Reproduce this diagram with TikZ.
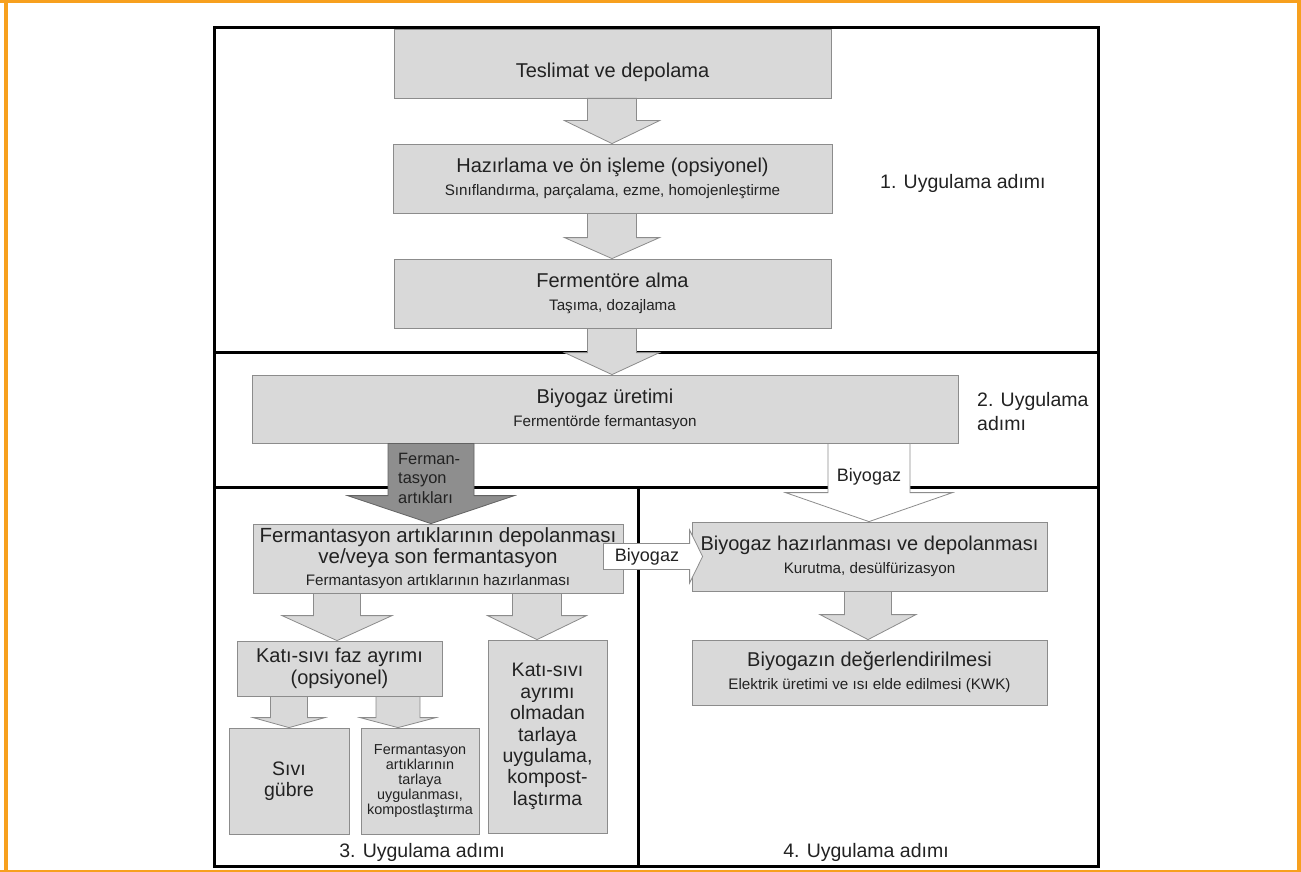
\documentclass[tikz,border=0pt]{standalone}
\usepackage{fontspec}
\setmainfont{Liberation Sans}
\usetikzlibrary{calc}
\definecolor{boxfill}{RGB}{217,217,217}
\definecolor{boxline}{RGB}{140,140,140}
\definecolor{darkfill}{RGB}{142,142,142}
\definecolor{frameorange}{RGB}{247,160,30}
\definecolor{txt}{RGB}{34,34,34}
\newcommand\fsMain{\fontsize{20}{23}\selectfont}
\newcommand\fsSub{\fontsize{15.2}{17}\selectfont}
\newcommand\fsLbl{\fontsize{19.5}{24}\selectfont}
% #1 style, #2 from node, #3 to node, #4 x-coordinate, #5 shaft half width, #6 head half width, #7 head length
\newcommand\blockdown[7]{%
  \draw[#1] ($(#4 |- #2.south)+(-#5,0)$) -- ($(#4 |- #3.north)+(-#5,-#7)$)
    -- ($(#4 |- #3.north)+(-#6,-#7)$) -- (#4 |- #3.north)
    -- ($(#4 |- #3.north)+(#6,-#7)$) -- ($(#4 |- #3.north)+(#5,-#7)$)
    -- ($(#4 |- #2.south)+(#5,0)$) -- cycle;}
\begin{document}
\begin{tikzpicture}[x=1pt,y=-1pt,
  box/.style={draw=boxline, fill=boxfill, line width=0.8pt, inner sep=0pt, align=center, text=txt, font=\fsMain},
  blk/.style={draw=boxline, fill=boxfill, line width=0.8pt, line join=miter},
  gasarrow/.style={draw=boxline, fill=white, line width=0.8pt},
  darkarrow/.style={draw=boxline!70!black, fill=darkfill, line width=0.8pt},
  frameline/.style={line width=3pt, black},
  lbl/.style={inner sep=0pt, text=txt, font=\fsLbl}]
\useasboundingbox (0,0) rectangle (1301,872);
\fill[white] (0,0) rectangle (1301,872);
% orange page frame
\fill[frameorange] (0,0) rectangle (1301,3.5);
\fill[frameorange] (4,0) rectangle (7.5,872);
\fill[frameorange] (1297,0) rectangle (1300.5,872);
\fill[frameorange] (0,869.5) rectangle (1301,872);
% black section frames
\draw[frameline] (214.5,27.5) rectangle (1098,866);
\draw[frameline] (214.5,352) -- (1098,352);
\draw[frameline] (214.5,487) -- (1098,487);
\draw[frameline] (638,487) -- (638,866);
% boxes
\node[box, minimum width=437pt, minimum height=69pt] (tes) at (612.5,63.5) {\rule{0pt}{32pt}Teslimat ve depolama};
\node[box, minimum width=439pt, minimum height=69pt] (haz) at (612.5,178.5) {Hazırlama ve ön işleme (opsiyonel)\\{\fsSub Sınıflandırma, parçalama, ezme, homojenleştirme}};
\node[box, minimum width=437pt, minimum height=69pt] (fer) at (612.5,293.5) {Fermentöre alma\\{\fsSub Taşıma, dozajlama}};
\node[box, minimum width=706pt, minimum height=68pt] (bio) at (605,409) {Biyogaz üretimi\\{\fsSub Fermentörde fermantasyon}};
\node[box, minimum width=370pt, minimum height=69pt, font=\fontsize{20.5}{20.5}\selectfont] (dep) at (438,558.5) {Fermantasyon artıklarının depolanması\\ve/veya son fermantasyon\\[2pt]{\fsSub Fermantasyon artıklarının hazırlanması}};
\node[box, minimum width=205pt, minimum height=55pt, font=\fontsize{20}{22}\selectfont] (kati) at (339.5,668.5) {Katı-sıvı faz ayrımı\\(opsiyonel)};
\node[box, minimum width=119pt, minimum height=193pt, font=\fontsize{19.5}{21.4}\selectfont] (olm) at (547.5,736.5) {Katı-sıvı\\ayrımı\\olmadan\\tarlaya\\uygulama,\\kompost-\\laştırma};
\node[box, minimum width=120pt, minimum height=106pt, font=\fontsize{19.5}{21}\selectfont] (sivi) at (289,781) {Sıvı\\gübre};
\node[box, minimum width=118pt, minimum height=106pt, font=\fontsize{14.4}{15}\selectfont] (tarla) at (420,781) {Fermantasyon\\artıklarının\\tarlaya\\uygulanması,\\kompostlaştırma};
\node[box, minimum width=355pt, minimum height=69pt] (hzr) at (869.5,556.5) {Biyogaz hazırlanması ve depolanması\\{\fsSub Kurutma, desülfürizasyon}};
\node[box, minimum width=355pt, minimum height=65pt] (deg) at (869.5,672.5) {Biyogazın değerlendirilmesi\\{\fsSub Elektrik üretimi ve ısı elde edilmesi (KWK)}};
% arrow axes
\coordinate (cA) at (612,0);
\coordinate (cDark) at (431,0);
\coordinate (cGas) at (869,0);
\coordinate (cL) at (337,0);
\coordinate (cR) at (537,0);
\coordinate (cLL) at (289,0);
\coordinate (cLR) at (398,0);
\coordinate (cE) at (868,0);
% block arrows
\blockdown{blk}{tes}{haz}{cA}{24.5}{47.5}{23}
\blockdown{blk}{haz}{fer}{cA}{24.5}{47.5}{21}
\blockdown{blk}{fer}{bio}{cA}{24.5}{47.5}{22}
\blockdown{darkarrow}{bio}{dep}{cDark}{43}{83.5}{28}
\blockdown{gasarrow}{bio}{hzr}{cGas}{41}{83.5}{29}
\blockdown{blk}{dep}{kati}{cL}{23.5}{55}{25}
\blockdown{blk}{dep}{olm}{cR}{24.5}{49.5}{24}
\blockdown{blk}{kati}{sivi}{cLL}{18.5}{36}{10}
\blockdown{blk}{kati}{tarla}{cLR}{22}{38}{10}
\blockdown{blk}{hzr}{deg}{cE}{23.5}{48}{25}
% horizontal biogas arrow
\coordinate (hs) at ($(dep.east |- hzr.west)+(-20,0)$);
\coordinate (ht) at ($(hzr.west)+(11,0)$);
\draw[gasarrow] ($(hs)+(0,-13)$) -- ($(ht)+(-13,-13)$) -- ($(ht)+(-13,-26.5)$) -- (ht)
  -- ($(ht)+(-13,26.5)$) -- ($(ht)+(-13,13)$) -- ($(hs)+(0,13)$) -- cycle;
% arrow labels
\node[lbl, font=\fontsize{18}{20}\selectfont] (gash) at ($(hs)!0.5!(ht)+(-6,0)$) {Biyogaz};
\node[lbl, font=\fontsize{18}{20}\selectfont] (gasv) at (869,477) {Biyogaz};
\node[lbl, align=left, anchor=west, font=\fontsize{16.4}{19.5}\selectfont] (darkl) at (398,478) {Ferman-\\tasyon\\artıkları};
% section labels
\node[lbl, anchor=west] (s1) at (880,183) {1. Uygulama adımı};
\node[lbl, align=left, anchor=west] (s2) at (977,412) {2. Uygulama\\adımı};
\node[lbl] (s3) at (422,852) {3. Uygulama adımı};
\node[lbl] (s4) at (866,852) {4. Uygulama adımı};
\end{tikzpicture}
\end{document}
